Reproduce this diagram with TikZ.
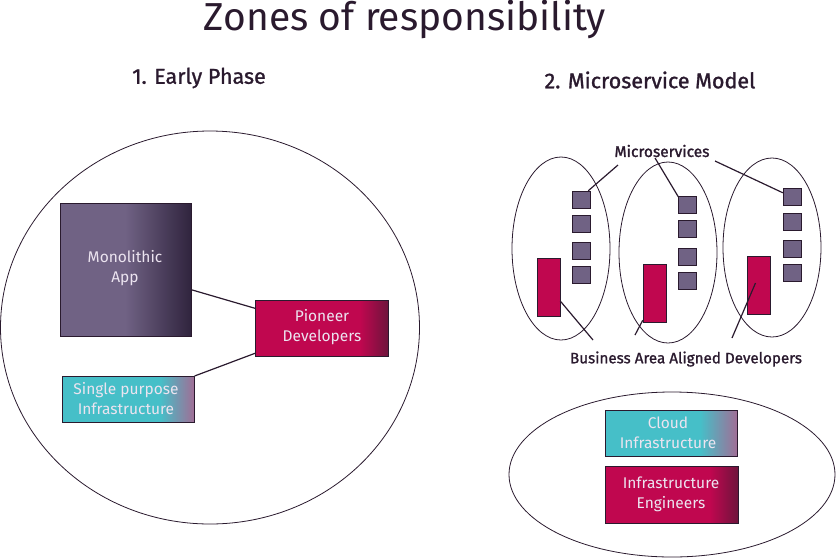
\documentclass[tikz,border=0pt]{standalone}
\usepackage{fontspec}
\setmainfont{Fira Sans}
\newfontfamily\headfont[FakeBold=1.2]{Fira Sans}
\newfontfamily\labelfont[FakeBold=1.6]{Fira Sans}
\usetikzlibrary{positioning,shapes.geometric}
\definecolor{ink}{RGB}{42, 26, 46}
\definecolor{mono}{RGB}{112, 98, 132}
\definecolor{monodark}{RGB}{48, 36, 62}
\definecolor{dev}{RGB}{192, 7, 79}
\definecolor{devdark}{RGB}{110, 20, 60}
\definecolor{infra}{RGB}{70, 191, 200}
\definecolor{infradark}{RGB}{160, 110, 150}
\definecolor{boxtext}{RGB}{236, 228, 240}

\tikzset{
    zone/.style = {ellipse, draw = ink, line width = 0.8pt, inner sep = 0pt},
    block/.style = {rectangle, draw = ink, line width = 0.6pt, inner sep = 0pt},
    blocktext/.style = {text = boxtext, align = center, font = \fontsize{15.5}{20}\selectfont},
    service/.style = {rectangle, draw = ink, line width = 0.5pt, fill = mono, minimum width = 18pt, minimum height = 17pt, inner sep = 0pt},
    team/.style = {rectangle, draw = ink, line width = 0.5pt, fill = dev, minimum width = 23pt, minimum height = 58pt, inner sep = 0pt},
    link/.style = {draw = ink, line width = 1.2pt}
}

\begin{document}
\begin{tikzpicture}[x = 1pt, y = -1pt]
    \useasboundingbox (0,0) rectangle (839,558);

    \node[text = ink, font = \fontsize{39}{44}\selectfont] (title) at (405,19) {Zones of responsibility};
    \node[text = ink, font = \headfont\fontsize{21.5}{24}\selectfont] (early) at (199,78) {1. Early Phase};
    \node[text = ink, font = \headfont\fontsize{21.5}{24}\selectfont] (micro) at (650,80) {2. Microservice Model};

    % early phase
    \node[zone, minimum width = 419pt, minimum height = 393pt] (bigzone) at (210,327.5) {};

    \shade[left color = mono, right color = monodark] (125,203) rectangle (191,336);
    \fill[mono] (60,203) rectangle (125,336);
    \node[block, minimum width = 131pt, minimum height = 133pt, anchor = north west] (mono) at (60,203) {};
    \node[blocktext] (monotext) at (125,268) {Monolithic\\App};

    \fill[dev] (255,300) rectangle (360,356);
    \shade[left color = dev, right color = devdark] (360,300) rectangle (388,356);
    \node[block, minimum width = 133pt, minimum height = 56pt, anchor = north west] (pioneer) at (255,300) {};
    \node[blocktext] (pioneertext) at (322,327) {Pioneer\\Developers};

    \fill[infra] (62,376) rectangle (160,422);
    \shade[left color = infra, right color = infradark] (160,376) rectangle (194,422);
    \node[block, minimum width = 132pt, minimum height = 46pt, anchor = north west] (single) at (62,376) {};
    \node[blocktext] (singletext) at (126,399) {Single purpose\\Infrastructure};

    \draw[link] ([yshift = -20pt]mono.east) -- ([yshift = 20pt]pioneer.west);
    \draw[link] (single.north east) -- ([yshift = -25pt]pioneer.west);

    % microservice model
    \node[zone, minimum width = 98pt, minimum height = 183pt] (zone1) at (561,248.5) {};
    \node[zone, minimum width = 98pt, minimum height = 181pt] (zone2) at (668,252.5) {};
    \node[zone, minimum width = 98pt, minimum height = 179pt] (zone3) at (772,247.5) {};

    \foreach \y [count = \i] in {199.5, 223.5, 250.5, 274.5}
        \node[service] (sa\i) at (581,\y) {};
    \foreach \y [count = \i] in {204.5, 228.5, 256.5, 280.5}
        \node[service] (sb\i) at (687.5,\y) {};
    \foreach \y [count = \i] in {196.5, 221.5, 248.5, 272.5}
        \node[service] (sc\i) at (792,\y) {};

    \node[team] (ta) at (548.5,287) {};
    \node[team] (tb) at (654.5,293) {};
    \node[team] (tc) at (758.5,285) {};

    \node[text = ink, font = \labelfont\fontsize{15.5}{18}\selectfont] (mslabel) at (662,151) {Microservices};
    \node[text = ink, font = \headfont\fontsize{15.2}{18}\selectfont] (devlabel) at (686,359) {Business Area Aligned Developers};

    \coordinate (msa) at (618,165);
    \coordinate (msb) at (655,158);
    \coordinate (msc) at (715,161);
    \draw[link] (msa) -- ([xshift = -2pt]sa1.north east);
    \draw[link] (msb) -- ([yshift = -1pt]sb1.north west);
    \draw[link] (msc) -- ([yshift = -5pt]sc1.north west);

    \coordinate (dva) at (593,340);
    \coordinate (dvb) at (635,335);
    \coordinate (dvc) at (732,338);
    \draw[link] (dva) -- ([yshift = -14pt]ta.east);
    \draw[link] (dvb) -- ([yshift = 2pt]tb.south west);
    \draw[link] (dvc) -- ([xshift = -3pt, yshift = 2pt]tc.center);

    \node[zone, minimum width = 326pt, minimum height = 165pt] (infrazone) at (672,474.5) {};

    \fill[infra] (605,410) rectangle (700,456);
    \shade[left color = infra, right color = infradark] (700,410) rectangle (737,456);
    \node[block, minimum width = 132pt, minimum height = 46pt, anchor = north west] (cloud) at (605,410) {};
    \node[blocktext] (cloudtext) at (668,433) {Cloud\\Infrastructure};

    \fill[dev] (605,466) rectangle (710,523);
    \shade[left color = dev, right color = devdark] (710,466) rectangle (738,523);
    \node[block, minimum width = 133pt, minimum height = 57pt, anchor = north west] (engineers) at (605,466) {};
    \node[blocktext] (engtext) at (671,494) {Infrastructure\\Engineers};
\end{tikzpicture}
\end{document}
